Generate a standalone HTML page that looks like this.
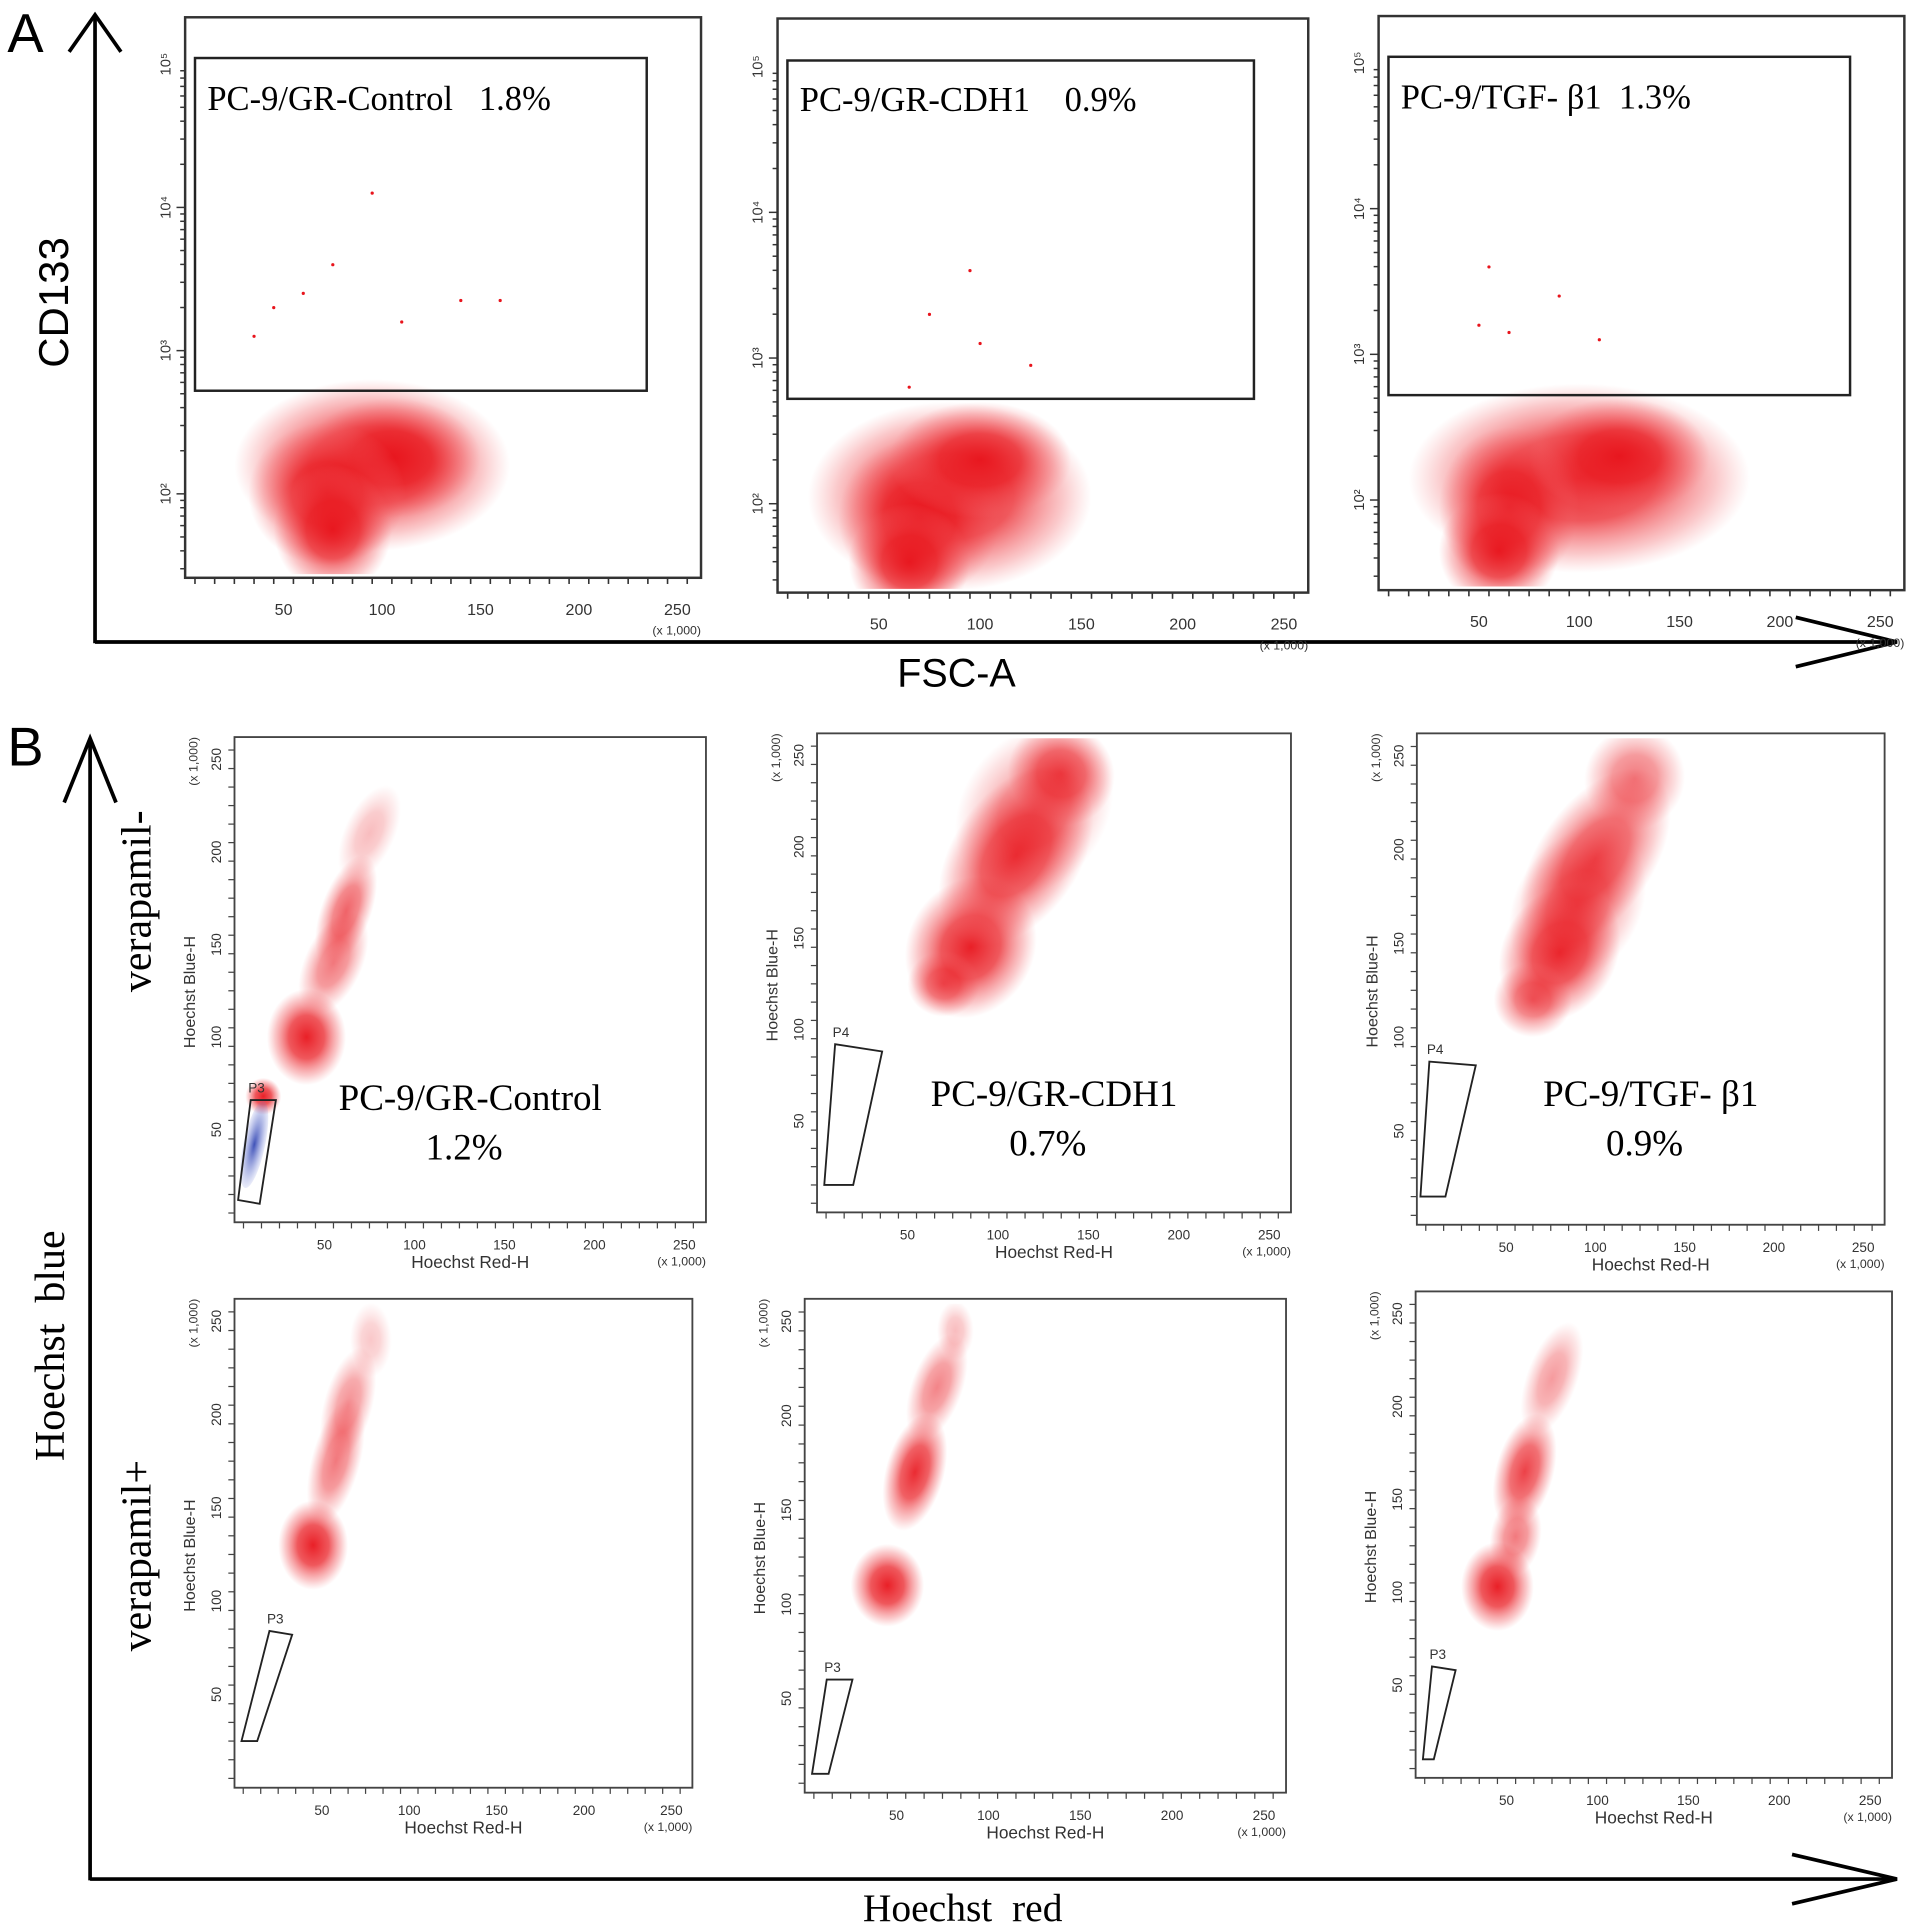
<!DOCTYPE html>
<html><head><meta charset="utf-8"><style>
html,body{margin:0;padding:0;background:#fff}
svg{display:block}
text{white-space:pre}
</style></head><body>
<svg id="fig" width="1913" height="1926" viewBox="0 0 1550 1560" preserveAspectRatio="none" xmlns="http://www.w3.org/2000/svg">
<defs>
<radialGradient id="rg"><stop offset="0" stop-color="#e8141c" stop-opacity="0.95"/><stop offset="0.45" stop-color="#ea2026" stop-opacity="0.75"/><stop offset="0.8" stop-color="#f04a50" stop-opacity="0.3"/><stop offset="1" stop-color="#f46a6e" stop-opacity="0"/></radialGradient>
<radialGradient id="bg"><stop offset="0" stop-color="#2a3fb0" stop-opacity="0.9"/><stop offset="1" stop-color="#6f7fd8" stop-opacity="0.15"/></radialGradient>
</defs>
<g stroke="#000" stroke-width="3" fill="none">
<line x1="77" y1="12" x2="77" y2="521"/><polyline points="56,42 77,12 98,42"/>
<line x1="77" y1="520" x2="1535" y2="520"/><polyline points="1455,500 1537,520 1455,540"/>
<line x1="73" y1="598" x2="73" y2="1523"/><polyline points="52,650 73,598 94,650"/>
<line x1="73" y1="1522" x2="1535" y2="1522"/><polyline points="1452,1502 1537,1522 1452,1542"/>
</g>
<g font-family="Liberation Sans, sans-serif" fill="#000">
<text x="6" y="42" font-size="44">A</text>
<text x="6" y="620" font-size="44">B</text>
<text transform="translate(55,245) rotate(-90)" text-anchor="middle" font-size="34">CD133</text>
<text x="775" y="556" text-anchor="middle" font-size="32">FSC-A</text>
</g>
<g font-family="Liberation Serif, serif" fill="#000">
<text transform="translate(52,1090) rotate(-90)" text-anchor="middle" font-size="34">Hoechst  blue</text>
<text transform="translate(122,730) rotate(-90)" text-anchor="middle" font-size="34">verapamil-</text>
<text transform="translate(122,1260) rotate(-90)" text-anchor="middle" font-size="34">verapamil+</text>
<text x="780" y="1556" text-anchor="middle" font-size="32">Hoechst  red</text>
</g>
<g id="plots"></g>
</svg>
<script>
var NS='http://www.w3.org/2000/svg';
// ---- Panel A data (x: FSC-A x1000, y: log10 CD133) ----
var aTitles=['PC-9/GR-Control   1.8%','PC-9/GR-CDH1    0.9%','PC-9/TGF- β1  1.3%'];
var aXTicks=[50,100,150,200,250];
var aYTicks=[2,3,4,5];
var aGateLow=[2.72,2.72,2.72];
var aClusters=[
 [[95,2.2,70,0.6],[105,2.25,45,0.42],[72,2.0,40,0.5],[75,1.75,30,0.45]],
 [[85,2.05,70,0.65],[70,1.9,40,0.55],[65,1.6,30,0.4],[100,2.3,45,0.4]],
 [[100,2.15,85,0.65],[65,1.95,35,0.55],[60,1.65,30,0.4],[120,2.3,45,0.4]]
];
var aOutliers=[
 [[35,3.1],[45,3.3],[60,3.4],[75,3.6],[95,4.1],[140,3.35],[160,3.35],[110,3.2]],
 [[75,3.3],[95,3.6],[100,3.1],[65,2.8],[125,2.95]],
 [[50,3.2],[55,3.6],[90,3.4],[110,3.1],[65,3.15]]
];
// ---- Panel B data (x: Hoechst Red x1000, y: Hoechst Blue x1000) ----
var bTitles=['PC-9/GR-Control','PC-9/GR-CDH1','PC-9/TGF- β1','','',''];
var bPercents=['1.2%','0.7%','0.9%','','',''];
var bGateNames=['P3','P4','P4','P3','P3','P3'];
var bTicks=[50,100,150,200,250];
var bClusters=[
 [[40,100,22,26,0,1],[55,140,16,30,25,0.6],[62,168,14,32,20,0.7],[75,210,14,28,25,0.3],[16,68,10,10,0,1]],
 [[85,145,35,40,30,1],[110,195,35,55,35,0.95],[135,240,30,28,30,0.85],[70,125,20,18,0,0.7],[120,220,40,50,35,0.5]],
 [[80,145,32,38,30,1],[100,195,32,55,35,0.85],[122,238,28,28,25,0.6],[65,120,22,20,0,0.7],[90,170,35,45,30,0.6]],
 [[45,130,20,24,0,1],[58,175,14,35,15,0.6],[65,205,14,32,15,0.5],[78,240,12,20,0,0.25]],
 [[45,110,20,22,0,1],[60,170,16,32,15,0.95],[72,215,14,30,20,0.55],[82,245,10,16,0,0.3]],
 [[45,103,20,24,0,1],[55,130,14,22,10,0.6],[60,165,16,32,15,0.85],[75,215,14,32,20,0.45]]
];
var bGates=[
 [[2,12],[9,66],[23,66],[14,10]],
 [[4,15],[10,92],[36,88],[20,15]],
 [[2,15],[7,87],[33,85],[16,15]],
 [[4,25],[20,84],[33,82],[13,25]],
 [[4,10],[12,60],[26,60],[13,10]],
 [[4,10],[9,60],[22,58],[10,10]]
];
var aFrames=[[150,14,568,468],[630,15,1060,480],[1117,13,1543,478]];
var aYMap=[[400,116],[408,118],[405,118]];
var bFrames=[[190,597,572,990],[662,594,1046,982],[1148,594,1527,992],[190,1052,561,1448],[652,1052,1042,1452],[1147,1046,1533,1440]];

var root=document.getElementById('plots');
function el(tag,attrs,parent,txt){var e=document.createElementNS(NS,tag);for(var k in attrs)e.setAttribute(k,attrs[k]);if(txt!==undefined)e.textContent=txt;(parent||root).appendChild(e);return e;}

aFrames.forEach(function(f,i){
  var g=el('g',{});
  
  
  var xs=(f[2]-f[0])/262;
  function X(v){return f[0]+v*xs;}
  function Y(v){return aYMap[i][0]-(v-2)*aYMap[i][1];}
  var cg=el('g',{},g);
  cg.setAttribute('clip-path','url(#clipA'+i+')');
  var cp=el('clipPath',{id:'clipA'+i},g);
  el('rect',{x:f[0],y:f[1],width:f[2]-f[0],height:f[3]-f[1]-3},cp);
  aClusters[i].forEach(function(c){
    var e=el('ellipse',{cx:X(c[0]),cy:Y(c[1]),rx:c[2]*xs,ry:c[3]*aYMap[i][1],fill:'url(#rg)'},cg);
    
    
  });
  aOutliers[i].forEach(function(p){
    var d=el('circle',{cx:X(p[0]),cy:Y(p[1]),r:1.3,fill:'#e8141c'},g);
    
    
  });
  var fr=el('rect',{x:f[0],y:f[1],width:f[2]-f[0],height:f[3]-f[1],fill:'none',stroke:'#333','stroke-width':2},g);
  
  
  var gt=el('rect',{x:f[0]+8,y:Y(5)-5,width:(f[2]-f[0])-52,height:Y(aGateLow[i])-Y(5)+5,fill:'none',stroke:'#222','stroke-width':2},g);
  
  
  var t=el('text',{x:f[0]+18,y:f[1]+75,'font-family':'Liberation Serif, serif','font-size':28},g,aTitles[i]);
  
  
  for(var k=5;k<=260;k+=10){el('line',{x1:X(k),y1:f[3],x2:X(k),y2:f[3]+(k%50==0?8:5),stroke:'#333','stroke-width':1.3},g);}
  aXTicks.forEach(function(v){
    var tl=el('text',{x:X(v),y:f[3]+30,'text-anchor':'middle','font-family':'Liberation Sans, sans-serif','font-size':13,fill:'#333'},g,String(v));
    
    
  });
  el('text',{x:f[2],y:f[3]+46,'text-anchor':'end','font-family':'Liberation Sans, sans-serif','font-size':10,fill:'#333'},g,'(x 1,000)');
  aYTicks.forEach(function(v){
    for(var m=1;m<10;m++){var yy=Y(v-1+Math.log10(m));if(yy>f[1]&&yy<f[3])el('line',{x1:f[0]-(m==1?7:4),y1:yy,x2:f[0],y2:yy,stroke:'#333','stroke-width':1.2},g);}
    var yl=el('text',{transform:'translate('+(f[0]-12)+','+Y(v)+') rotate(-90)','text-anchor':'middle','font-family':'Liberation Sans, sans-serif','font-size':12,fill:'#333'},g,'10'+String.fromCharCode(v==2?178:v==3?179:0x2070+v));
    
    
  });
});

bFrames.forEach(function(f,i){
  var g=el('g',{});
  
  
  var xs=(f[2]-f[0])/262, ys=(f[3]-f[1])/262;
  function X(v){return f[0]+v*xs;}
  function Y(v){return f[3]-v*ys;}
  var cp=el('clipPath',{id:'clipB'+i},g);
  el('rect',{x:f[0],y:f[1]+4,width:f[2]-f[0],height:f[3]-f[1]-4},cp);
  var cg=el('g',{'clip-path':'url(#clipB'+i+')'},g);
  bClusters[i].forEach(function(c){
    var e=el('ellipse',{cx:X(c[0]),cy:Y(c[1]),rx:c[2]*xs,ry:c[3]*ys,fill:'url(#rg)',opacity:c[5],transform:'rotate('+c[4]+' '+X(c[0])+' '+Y(c[1])+')'},cg);
    
    
  });
  if(i==0){
    var b=el('ellipse',{cx:X(11),cy:Y(42),rx:6*xs,ry:24*ys,fill:'url(#bg)',transform:'rotate(12 '+X(11)+' '+Y(42)+')'},g);
    
    
  }
  var fr=el('rect',{x:f[0],y:f[1],width:f[2]-f[0],height:f[3]-f[1],fill:'none',stroke:'#444','stroke-width':1.5},g);
  
  
  var pts=bGates[i].map(function(p){return X(p[0])+','+Y(p[1]);}).join(' ');
  var pg=el('polygon',{points:pts,fill:'none',stroke:'#222','stroke-width':1.5},g);
  
  
  var gn=bGates[i][1];
  el('text',{x:X(gn[0])-2,y:Y(gn[1])-6,'font-family':'Liberation Sans, sans-serif','font-size':11,fill:'#333'},g,bGateNames[i]);
  for(var k=5;k<=260;k+=10){el('line',{x1:X(k),y1:f[3],x2:X(k),y2:f[3]+(k%50==0?7:5),stroke:'#444','stroke-width':1},g);
    el('line',{x1:f[0]-(k%50==0?7:5),y1:Y(k),x2:f[0],y2:Y(k),stroke:'#444','stroke-width':1},g);}
  bTicks.forEach(function(v){
    var tl=el('text',{x:X(v),y:f[3]+22,'text-anchor':'middle','font-family':'Liberation Sans, sans-serif','font-size':11,fill:'#333'},g,String(v));
    
    
    var yl=el('text',{transform:'translate('+(f[0]-11)+','+Y(v)+') rotate(-90)','text-anchor':'middle','font-family':'Liberation Sans, sans-serif','font-size':11,fill:'#333'},g,String(v));
    
    
  });
  el('text',{x:f[2],y:f[3]+35,'text-anchor':'end','font-family':'Liberation Sans, sans-serif','font-size':10,fill:'#333'},g,'(x 1,000)');
  el('text',{transform:'translate('+(f[0]-30)+','+f[1]+') rotate(-90)','text-anchor':'end','font-family':'Liberation Sans, sans-serif','font-size':10,fill:'#333'},g,'(x 1,000)');
  var xt=el('text',{x:(f[0]+f[2])/2,y:f[3]+37,'text-anchor':'middle','font-family':'Liberation Sans, sans-serif','font-size':14,fill:'#333'},g,'Hoechst Red-H');
  
  
  var yt=el('text',{transform:'translate('+(f[0]-32)+','+((f[1]+f[3])/2+10)+') rotate(-90)','text-anchor':'middle','font-family':'Liberation Sans, sans-serif','font-size':13,fill:'#333'},g,'Hoechst Blue-H');
  
  
  if(bTitles[i]){
    var t1=el('text',{x:(f[0]+f[2])/2,y:f[1]+302,'text-anchor':'middle','font-family':'Liberation Serif, serif','font-size':30},g,bTitles[i]);
    
    
    var t2=el('text',{x:(f[0]+f[2])/2-5,y:f[1]+342,'text-anchor':'middle','font-family':'Liberation Serif, serif','font-size':30},g,bPercents[i]);
    
    
  }
});
</script>
</body></html>
